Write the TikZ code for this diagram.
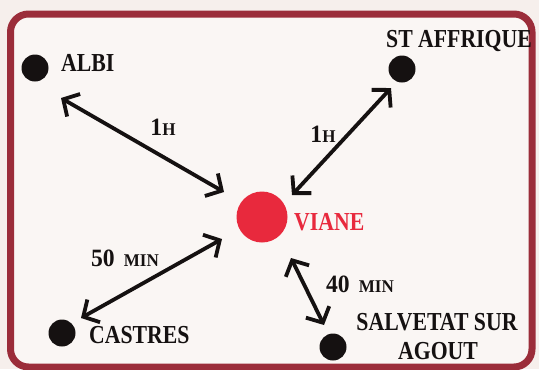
\documentclass[tikz,border=0pt]{standalone}
\usepackage{fontspec}
\setmainfont{Liberation Serif}[FakeStretch=0.84]
\newfontfamily\timefont{Liberation Serif}[FakeStretch=0.95]
\usetikzlibrary{arrows.meta}
\definecolor{framered}{HTML}{9B2D3A}
\definecolor{dotred}{HTML}{E8293D}
\definecolor{bgout}{HTML}{F6EFEC}
\definecolor{bgin}{HTML}{FAF6F4}
\definecolor{ink}{HTML}{151111}
\newcommand{\smc}[1]{{\fontsize{18}{18}\selectfont #1}}
\begin{document}
\begin{tikzpicture}[x=1bp,y=-1bp,
  citydot/.style={circle,fill=ink,inner sep=0pt,minimum size=27bp},
  citylabel/.style={font=\fontsize{26}{27}\selectfont\bfseries,text=ink,inner sep=0pt,align=center},
  timelabel/.style={font=\timefont\fontsize{25}{26}\selectfont\bfseries,text=ink,inner sep=0pt},
  link/.style={line width=3.8bp,draw=ink,{Straight Barb[length=12bp,width=26bp,line width=3.8bp]}-{Straight Barb[length=12bp,width=26bp,line width=3.8bp]}}]
\fill[bgout] (0,0) rectangle (539,369);
\useasboundingbox (0,0) rectangle (539,369);
\draw[framered,line width=7bp,rounded corners=18bp,fill=bgin] (10.5,14) rectangle (532,367);
% cities
\node[citydot] (albi) at (35,68) {};
\node[citylabel,anchor=west] (albiL) at (61,63) {ALBI};
\node[citydot] (staf) at (402,69) {};
\node[citylabel] (stafL) at (459,41) {ST AFFRIQUE};
\node[circle,fill=dotred,inner sep=0pt,minimum size=51bp] (viane) at (262,217) {};
\node[citylabel,text=dotred,anchor=west] (vianeL) at (294,222) {VIANE};
\node[citydot] (castres) at (62,333) {};
\node[citylabel,anchor=west] (castresL) at (89,335) {CASTRES};
\node[citydot] (salv) at (333,347) {};
\node[citylabel] (salvL) at (437,322) {SALVETAT SUR};
\node[citylabel] (agoutL) at (438,351) {AGOUT};
% arrow ends
\coordinate (a1s) at (61,98);
\coordinate (a1e) at (224,192);
\coordinate (a2s) at (292,195);
\coordinate (a2e) at (391,88);
\coordinate (a3s) at (222,239);
\coordinate (a3e) at (81,318);
\coordinate (a4s) at (291,258);
\coordinate (a4e) at (324,325);
\draw[link] (a1s) -- (a1e);
\draw[link] (a2s) -- (a2e);
\draw[link] (a3s) -- (a3e);
\draw[link] (a4s) -- (a4e);
% times
\node[timelabel] (t1) at (163,127) {1\smc{H}};
\node[timelabel] (t2) at (323,134) {1\smc{H}};
\node[timelabel] (t3) at (125,258) {50\hspace{9bp}\smc{MIN}};
\node[timelabel] (t4) at (360,284) {40\hspace{9bp}\smc{MIN}};
\end{tikzpicture}
\end{document}
